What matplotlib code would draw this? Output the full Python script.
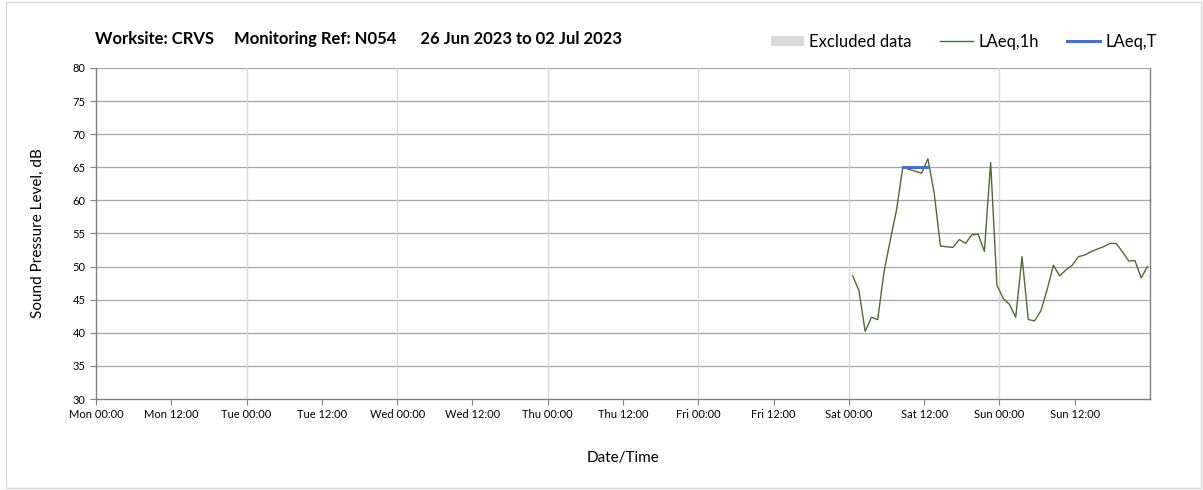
import numpy as np
import matplotlib
matplotlib.use("Agg")
import matplotlib.pyplot as plt
from matplotlib.patches import Rectangle, Patch
from matplotlib.lines import Line2D

plt.rcParams['font.family'] = ['Lato', 'DejaVu Sans']

# Data (hours since Mon 00:00)
start_hour = 120.6
laeq_1h = [48.6, 46.4, 40.2, 42.35, 42.0, 49.2, 54.0, 58.55, 65.0, 64.7, 64.4, 64.1,
           66.3, 61.1, 53.1, 53.0, 52.9, 54.1, 53.5, 54.8, 54.9, 52.3, 65.7, 47.2,
           45.2, 44.3, 42.35, 51.5, 42.0, 41.8, 43.3, 46.5, 50.2, 48.6, 49.5, 50.2,
           51.5, 51.75, 52.25, 52.65, 53.0, 53.5, 53.5, 52.25, 50.85, 50.9, 48.3, 50.0]
laeq_t_hours = [128.6, 132.6]
laeq_t_value = [65.0, 65.0]
tick_labels = ["Mon 00:00", "Mon 12:00", "Tue 00:00", "Tue 12:00", "Wed 00:00", "Wed 12:00",
               "Thu 00:00", "Thu 12:00", "Fri 00:00", "Fri 12:00", "Sat 00:00", "Sat 12:00",
               "Sun 00:00", "Sun 12:00"]

hours = start_hour + np.arange(len(laeq_1h))

fig = plt.figure(figsize=(12.03, 4.9), dpi=100)
ax = fig.add_axes([96/1203, 1-399/490, (1150-96)/1203, (399-68)/490])

fig.patches.append(Rectangle((6/1203, 2/490), 1-8/1203, 1-4/490, transform=fig.transFigure,
                             fill=False, edgecolor='#d9d9d9', linewidth=1))

ax.set_xlim(0, 168)
ax.set_ylim(30, 80)
ax.set_xticks(np.arange(0, 168, 12))
ax.set_xticklabels(tick_labels, fontsize=8)
ax.set_yticks(np.arange(30, 81, 5))
ax.tick_params(axis='y', labelsize=8, length=4, color='#808080')
ax.tick_params(axis='x', labelsize=8, length=4, color='#808080')

for y in range(35, 81, 5):
    ax.axhline(y, color='#a6a6a6', linewidth=0.9, zorder=1)
for d in range(24, 168, 24):
    ax.axvline(d, color='#d9d9d9', linewidth=1.0, zorder=1)

ax.spines['top'].set_visible(False)
for s in ['left', 'bottom', 'right']:
    ax.spines[s].set_color('#808080')
    ax.spines[s].set_linewidth(1.0)

ax.plot(hours, laeq_1h, color='#4f6b2f', linewidth=1.0, zorder=3)
ax.plot(laeq_t_hours, laeq_t_value, color='#4472c4', linewidth=2.2, zorder=4)

ax.set_ylabel("Sound Pressure Level, dB", fontsize=11, labelpad=20)
ax.set_xlabel("Date/Time", fontsize=11, labelpad=22)

fig.text(95/1203, 1-39/490, "Worksite: CRVS     Monitoring Ref: N054      26 Jun 2023 to 02 Jul 2023",
         fontsize=12, fontweight='bold', va='center', ha='left')

handles = [Patch(facecolor='#d9d9d9', edgecolor='none'),
           Line2D([], [], color='#4f6b2f', linewidth=1.0),
           Line2D([], [], color='#4472c4', linewidth=2.2)]
fig.legend(handles, ["Excluded data", "LAeq,1h", "LAeq,T"], loc='center right',
           bbox_to_anchor=(1172/1203, 1-42/490), ncol=3, frameon=False, fontsize=12,
           handlelength=2.0, handleheight=0.6, columnspacing=1.7, handletextpad=0.3)

fig.savefig("out.png", dpi=100)
